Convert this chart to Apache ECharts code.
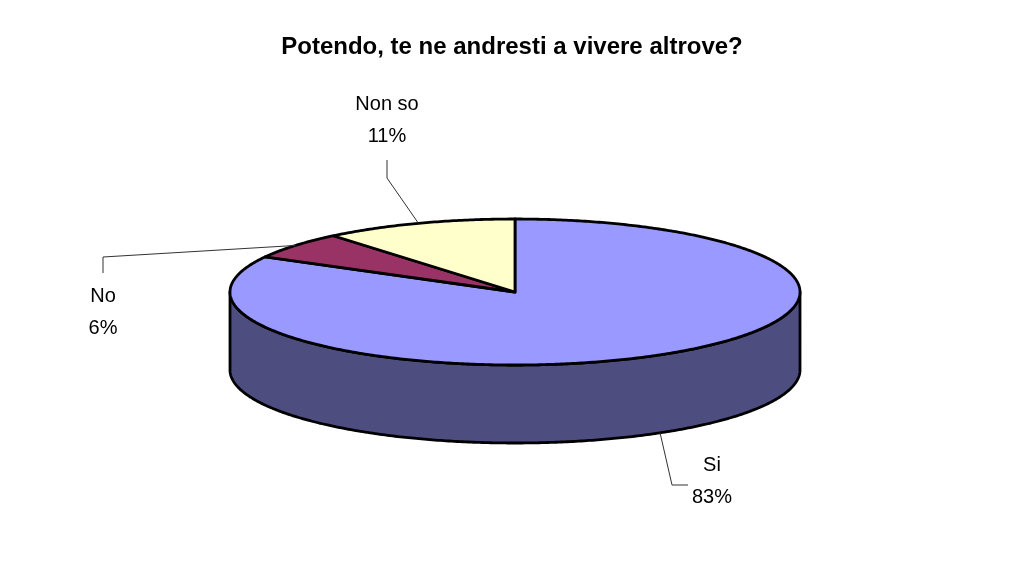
<!DOCTYPE html>
<html>
<head>
<meta charset="utf-8">
<script src="https://cdn.jsdelivr.net/npm/echarts@6/dist/echarts.min.js"></script>
<style>
html, body { margin: 0; background: #fff; }
#chart { width: 1024px; height: 577px; }
</style>
</head>
<body>
<div id="chart"></div>
<script>
// dati del grafico
var titleText = 'Potendo, te ne andresti a vivere altrove?';
var categories = ['Si', 'No', 'Non so'];
var values = [83, 6, 11];

// colori (faccia superiore / lato)
var topColors = ['#9999FF', '#993366', '#FFFFCC'];
var sideColors = ['#4D4D80', '#4D1A33', '#80806A'];

// geometria della torta 3D
var pie = { cx: 515, cy: 292, rx: 285, ry: 73, depth: 78 };

// posizione etichette, relative al centro
var labelLayout = [
    { x: 197, y: 189, side: true, elbow: [[157, 193], [173, 193]] },
    { x: -412, y: 20, side: false, elbow: [[-412, -35], [-412, -19]] },
    { x: -128, y: -172, side: false, elbow: [[-128, -114], [-128, -132]] }
];

var total = values.reduce(function (a, b) { return a + b; }, 0);
var starts = [];
var acc = 0;
values.forEach(function (v) { starts.push(acc); acc += v; });

function pt(theta, dy) {
    return [pie.cx + pie.rx * Math.sin(theta), pie.cy - pie.ry * Math.cos(theta) + (dy || 0)];
}
function arc(a, b, dy) {
    var pts = [];
    var n = Math.max(2, Math.ceil((b - a) / 0.01));
    for (var i = 0; i <= n; i++) pts.push(pt(a + (b - a) * i / n, dy));
    return pts;
}

function renderItem(params, api) {
    var i = params.dataIndex;
    var v = api.value(0);
    var t1 = starts[i] / total * Math.PI * 2;
    var t2 = t1 + v / total * Math.PI * 2;
    var children = [];

    // lato visibile (metà frontale)
    var a = Math.max(t1, Math.PI / 2), b = Math.min(t2, Math.PI * 3 / 2);
    if (a < b) {
        var wall = arc(a, b, 0).concat(arc(a, b, pie.depth).reverse());
        children.push({
            type: 'polygon', z2: 1,
            shape: { points: wall },
            style: { fill: sideColors[i], stroke: '#000', lineWidth: 2.8, lineJoin: 'round' }
        });
    }

    // faccia superiore
    var face = [[pie.cx, pie.cy]].concat(arc(t1, t2, 0));
    children.push({
        type: 'polygon', z2: 10,
        shape: { points: face },
        style: { fill: topColors[i], stroke: '#000', lineWidth: 2.8, lineJoin: 'round' }
    });

    // linea guida + etichetta
    var lay = labelLayout[i];
    var mid = (t1 + t2) / 2;
    var anchor = pt(mid, lay.side ? pie.depth : 0);
    var line = [anchor].concat(lay.elbow.map(function (p) { return [pie.cx + p[0], pie.cy + p[1]]; }));
    children.push({
        type: 'polyline', z2: 20,
        shape: { points: line },
        style: { stroke: '#333', lineWidth: 1, fill: null }
    });
    children.push({
        type: 'text', z2: 20,
        style: {
            text: categories[i] + '\n' + Math.round(v / total * 100) + '%',
            x: pie.cx + lay.x, y: pie.cy + lay.y,
            align: 'center', verticalAlign: 'middle',
            fill: '#000', fontSize: 20, lineHeight: 32,
            fontFamily: 'Liberation Sans'
        }
    });

    return { type: 'group', children: children };
}

var chart = echarts.init(document.getElementById('chart'));
chart.setOption({
    backgroundColor: '#fff',
    animation: false,
    title: {
        text: titleText,
        left: 'center',
        top: 30,
        textStyle: { fontSize: 24, fontWeight: 'bold', color: '#000', fontFamily: 'Liberation Sans' }
    },
    series: [{
        type: 'custom',
        coordinateSystem: 'none',
        renderItem: renderItem,
        data: values
    }]
});
</script>
</body>
</html>
